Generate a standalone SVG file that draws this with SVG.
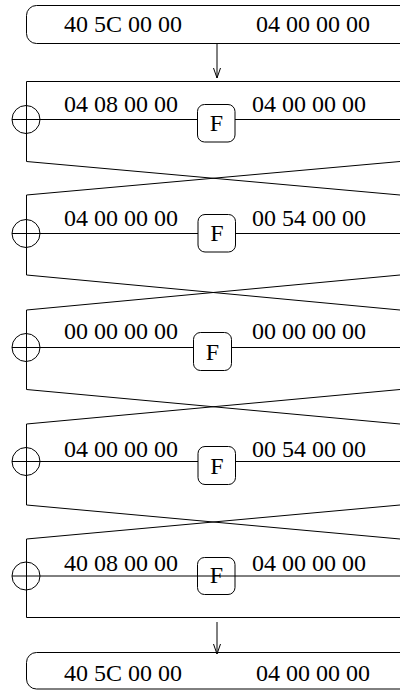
<svg xmlns="http://www.w3.org/2000/svg" width="400" height="690" viewBox="0 0 400 690">
  <style>
    .ln { fill: none; stroke: #000; stroke-width: 1; }
    .box { fill: #fff; stroke: #000; stroke-width: 1; }
    .boxo { fill: none; stroke: #000; stroke-width: 1; }
    .t { font-family: "Liberation Serif", "Times New Roman", serif; font-size: 24px; fill: #000; }
    .f { font-family: "Liberation Serif", "Times New Roman", serif; font-size: 24px; fill: #000; text-anchor: middle; }
  </style>
  <defs>
    <marker id="arrow" viewBox="0 0 10 10" refX="10" refY="5" markerWidth="10" markerHeight="10" markerUnits="userSpaceOnUse" orient="auto">
      <path d="M0,1.5 L10,5 L0,8.5" fill="none" stroke="#000" stroke-width="1"/>
    </marker>
  </defs>

  <rect width="400" height="690" fill="#fff"/>

  <!-- input block -->
  <g id="input">
    <rect class="boxo" x="26.5" y="5.5" width="420" height="38" rx="10"/>
    <text class="t" x="64" y="32">40 5C 00 00</text>
    <text class="t" x="256" y="32">04 00 00 00</text>
  </g>

  <!-- Feistel wiring: block edges, XOR taps and swaps -->
  <g id="connectors">
    <line class="ln" x1="217" y1="43.5" x2="217" y2="78" marker-end="url(#arrow)"/>
    <!-- round 1 -->
    <path class="ln" d="M400,81.5 H26.5 V161.5"/>
    <path class="ln" d="M12,119.5 H197 M235,119.5 H400"/>
    <!-- swap 1-2 -->
    <path class="ln" d="M26.5,161.5 L400,195 M26.5,195 L400,161.5"/>
    <!-- round 2 -->
    <path class="ln" d="M26.5,195 V275"/>
    <path class="ln" d="M12,233.5 H198 M235,233.5 H400"/>
    <path class="ln" d="M26.5,275 L400,310 M26.5,310 L400,275"/>
    <!-- round 3 -->
    <path class="ln" d="M26.5,310 V389.5"/>
    <path class="ln" d="M12,347.5 H193 M232,347.5 H400"/>
    <path class="ln" d="M26.5,389.5 L400,424 M26.5,424 L400,389.5"/>
    <!-- round 4 -->
    <path class="ln" d="M26.5,424 V505"/>
    <path class="ln" d="M12,461.5 H198 M235,461.5 H400"/>
    <path class="ln" d="M26.5,505 L400,539 M26.5,539 L400,505"/>
    <!-- round 5 -->
    <path class="ln" d="M26.5,539 V617.5 H400"/>
    <line class="ln" x1="217" y1="622" x2="217" y2="654" marker-end="url(#arrow)"/>
  </g>

  <g id="round1">
    <circle class="ln" cx="26" cy="119.5" r="14"/>
    <text class="t" x="64" y="112">04 08 00 00</text>
    <text class="t" x="252" y="112">04 00 00 00</text>
    <rect class="box" x="197.5" y="104.5" width="37.5" height="37.5" rx="7"/>
    <text class="f" x="216.5" y="131">F</text>
  </g>

  <g id="round2">
    <circle class="ln" cx="26" cy="233.5" r="14"/>
    <text class="t" x="64" y="226">04 00 00 00</text>
    <text class="t" x="252" y="226">00 54 00 00</text>
    <rect class="box" x="198" y="214.5" width="37.5" height="37.5" rx="7"/>
    <text class="f" x="217" y="241">F</text>
  </g>

  <g id="round3">
    <circle class="ln" cx="26" cy="347.5" r="14"/>
    <text class="t" x="64" y="339">00 00 00 00</text>
    <text class="t" x="252" y="339">00 00 00 00</text>
    <rect class="box" x="193.5" y="332.5" width="38" height="38" rx="7"/>
    <text class="f" x="212.5" y="360">F</text>
  </g>

  <g id="round4">
    <circle class="ln" cx="26" cy="461.5" r="14"/>
    <text class="t" x="64" y="457">04 00 00 00</text>
    <text class="t" x="252" y="457">00 54 00 00</text>
    <rect class="box" x="198" y="446.5" width="37.5" height="38" rx="7"/>
    <text class="f" x="217" y="474">F</text>
  </g>

  <g id="round5">
    <circle class="ln" cx="26" cy="576" r="14"/>
    <text class="t" x="64" y="571">40 08 00 00</text>
    <text class="t" x="252" y="571">04 00 00 00</text>
    <rect class="box" x="197.5" y="557.5" width="37.5" height="37" rx="7"/>
    <text class="f" x="216.5" y="583">F</text>
    <line class="ln" x1="12" y1="576" x2="400" y2="576"/>
  </g>

  <!-- output block -->
  <g id="output">
    <rect class="boxo" x="26.5" y="652.5" width="420" height="36.5" rx="10"/>
    <text class="t" x="64" y="681">40 5C 00 00</text>
    <text class="t" x="256" y="681">04 00 00 00</text>
  </g>
</svg>
